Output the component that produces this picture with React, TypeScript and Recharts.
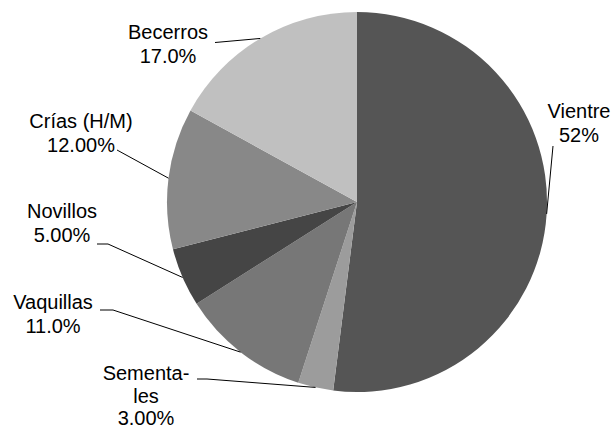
import { PieChart, Pie, Cell } from 'recharts';

const categories = ['Vientre', 'Sementales', 'Vaquillas', 'Novillos', 'Crías (H/M)', 'Becerros'];
const shares = [52, 3, 11, 5, 12, 17];
const shareLabels = ['52%', '3.00%', '11.0%', '5.00%', '12.00%', '17.0%'];

/* Label text split as the original wraps it. */
const labelLines = [
  ['Vientre', '52%'],
  ['Sementa-', 'les', '3.00%'],
  ['Vaquillas', '11.0%'],
  ['Novillos', '5.00%'],
  ['Crías (H/M)', '12.00%'],
  ['Becerros', '17.0%'],
];

const FILLS = ['#555555', '#9c9c9c', '#777777', '#454545', '#888888', '#c0c0c0'];
const FONT = '"Liberation Sans", Arial, sans-serif';
const LINE_H = 23.5;

/* Hand placement of each callout: text centre x, first baseline, leader start and optional elbow. */
const callouts = [
  { x: 579, y: 118, from: [553, 146], elbow: null, lh: LINE_H },
  { x: 146, y: 380, from: [197, 379], elbow: [207, 379], lh: 22.5 },
  { x: 53, y: 309, from: [100, 310], elbow: [113, 310], lh: LINE_H },
  { x: 62, y: 218, from: [97, 244], elbow: [108, 244], lh: LINE_H },
  { x: 81, y: 128, from: [117, 150], elbow: null, lh: LINE_H },
  { x: 168, y: 39, from: [215, 42.5], elbow: null, lh: LINE_H },
];

const data = categories.map((name, i) => ({ name, value: shares[i], label: shareLabels[i] }));

const RAD = Math.PI / 180;

function renderCallout(props: any) {
  const { cx, cy, midAngle, outerRadius, index } = props;
  const c = callouts[index];
  const ex = cx + outerRadius * Math.cos(-midAngle * RAD);
  const ey = cy + outerRadius * Math.sin(-midAngle * RAD);
  const pts = [c.from, ...(c.elbow ? [c.elbow] : []), [ex, ey]];
  return (
    <g key={`callout-${index}`}>
      <polyline
        points={pts.map((p) => p.join(',')).join(' ')}
        fill="none"
        stroke="#000"
        strokeWidth={1}
      />
      {labelLines[index].map((t, j) => (
        <text
          key={j}
          x={c.x}
          y={c.y + j * c.lh}
          textAnchor="middle"
          fontFamily={FONT}
          fontSize={20}
          fill="#000"
        >
          {t}
        </text>
      ))}
    </g>
  );
}

export default function App() {
  return (
    <div style={{ width: 616, height: 430, background: '#fff' }}>
      <style>{'body{margin:0}'}</style>
      <PieChart width={616} height={430} margin={{ top: 0, right: 0, bottom: 0, left: 0 }}>
        <Pie
          data={data}
          dataKey="value"
          nameKey="name"
          cx={357}
          cy={202}
          outerRadius={190}
          startAngle={90}
          endAngle={-270}
          stroke="none"
          label={renderCallout}
          labelLine={false}
          isAnimationActive={false}
        >
          {data.map((_, i) => (
            <Cell key={i} fill={FILLS[i]} />
          ))}
        </Pie>
      </PieChart>
    </div>
  );
}
